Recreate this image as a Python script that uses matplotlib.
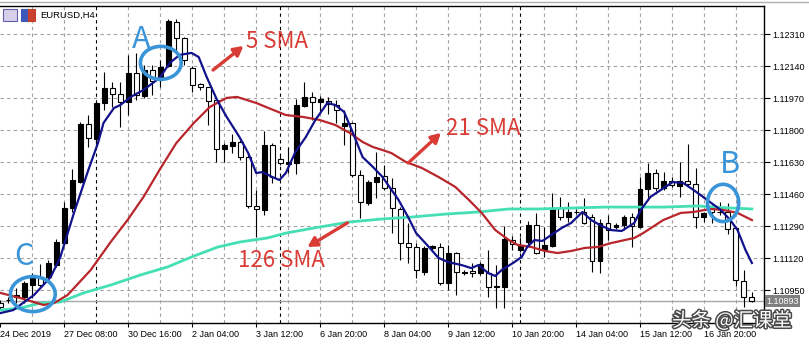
import numpy as np
import matplotlib.pyplot as plt
import matplotlib.patheffects as pe
from matplotlib.patches import Ellipse, Rectangle
from matplotlib.lines import Line2D


# EURUSD H4 candles, oldest first
opens = [1.10882, 1.10898, 1.10914, 1.10914, 1.10978, 1.11021, 1.11021, 1.11084, 1.11201, 1.11387,
         1.11525, 1.11833, 1.11754, 1.11945, 1.12025, 1.11993, 1.11950, 1.12104, 1.11982, 1.12120,
         1.12067, 1.12142, 1.12375, 1.12290, 1.12131, 1.12046, 1.12030, 1.11961, 1.11701, 1.11717,
         1.11738, 1.11658, 1.11398, 1.11377, 1.11722, 1.11648, 1.11621, 1.11626, 1.11929, 1.11977,
         1.11950, 1.11956, 1.11934, 1.11823, 1.11839, 1.11563, 1.11414, 1.11525, 1.11557, 1.11493,
         1.11382, 1.11201, 1.11180, 1.11047, 1.11175, 1.11180, 1.10989, 1.11148, 1.11042, 1.11052,
         1.11042, 1.11042, 1.10968, 1.10968, 1.11217, 1.11164, 1.11207, 1.11297, 1.11164, 1.11185,
         1.11387, 1.11339, 1.11366, 1.11366, 1.11339, 1.11106, 1.11308, 1.11286, 1.11297, 1.11339,
         1.11286, 1.11488, 1.11573, 1.11493, 1.11531, 1.11504, 1.11531, 1.11515, 1.11339, 1.11387,
         1.11366, 1.11366, 1.11281, 1.10999, 1.10914]
highs = [1.10898, 1.10914, 1.10962, 1.10999, 1.11042, 1.11090, 1.11111, 1.11223, 1.11419, 1.11594,
         1.11844, 1.11881, 1.11950, 1.12110, 1.12057, 1.12057, 1.12200, 1.12211, 1.12147, 1.12147,
         1.12173, 1.12391, 1.12391, 1.12296, 1.12142, 1.12051, 1.12030, 1.11972, 1.11732, 1.11780,
         1.11748, 1.11685, 1.11483, 1.11796, 1.11732, 1.11663, 1.11711, 1.11966, 1.12057, 1.12003,
         1.11982, 1.11977, 1.11961, 1.11908, 1.11844, 1.11589, 1.11536, 1.11685, 1.11616, 1.11547,
         1.11392, 1.11308, 1.11201, 1.11185, 1.11191, 1.11201, 1.11191, 1.11153, 1.11058, 1.11095,
         1.11100, 1.11164, 1.11084, 1.11292, 1.11238, 1.11233, 1.11318, 1.11361, 1.11286, 1.11467,
         1.11446, 1.11419, 1.11382, 1.11440, 1.11355, 1.11329, 1.11350, 1.11308, 1.11350, 1.11361,
         1.11552, 1.11626, 1.11594, 1.11578, 1.11552, 1.11632, 1.11727, 1.11600, 1.11366, 1.11403,
         1.11419, 1.11414, 1.11286, 1.11058, 1.10941]
lows = [1.10851, 1.10882, 1.10882, 1.10882, 1.10909, 1.10968, 1.10989, 1.11074, 1.11191, 1.11366,
        1.11520, 1.11711, 1.11711, 1.11908, 1.11924, 1.11817, 1.11881, 1.11961, 1.11972, 1.11988,
        1.12030, 1.12136, 1.12211, 1.12147, 1.12003, 1.12014, 1.11828, 1.11632, 1.11632, 1.11679,
        1.11642, 1.11387, 1.11233, 1.11350, 1.11520, 1.11616, 1.11573, 1.11568, 1.11924, 1.11855,
        1.11892, 1.11887, 1.11839, 1.11722, 1.11552, 1.11334, 1.11403, 1.11440, 1.11483, 1.11254,
        1.11111, 1.11095, 1.11015, 1.11031, 1.11164, 1.10978, 1.10952, 1.10925, 1.11031, 1.11021,
        1.11031, 1.10914, 1.10856, 1.10856, 1.11164, 1.11153, 1.11191, 1.11143, 1.11127, 1.11180,
        1.11323, 1.11313, 1.11355, 1.11302, 1.11047, 1.11042, 1.11217, 1.11276, 1.11270, 1.11180,
        1.11281, 1.11430, 1.11478, 1.11483, 1.11499, 1.11446, 1.11499, 1.11281, 1.11313, 1.11308,
        1.11350, 1.11249, 1.10973, 1.10861, 1.10888]
closes = [1.10861, 1.10898, 1.10925, 1.10989, 1.11026, 1.10978, 1.11095, 1.11207, 1.11387, 1.11536,
          1.11833, 1.11759, 1.11945, 1.12025, 1.11993, 1.11950, 1.12104, 1.11988, 1.12120, 1.12062,
          1.12136, 1.12381, 1.12290, 1.12173, 1.12041, 1.12030, 1.11956, 1.11701, 1.11722, 1.11738,
          1.11658, 1.11398, 1.11382, 1.11722, 1.11552, 1.11626, 1.11632, 1.11934, 1.11977, 1.11950,
          1.11966, 1.11940, 1.11908, 1.11839, 1.11563, 1.11419, 1.11525, 1.11552, 1.11493, 1.11387,
          1.11201, 1.11180, 1.11058, 1.11175, 1.11185, 1.10989, 1.11148, 1.11047, 1.11047, 1.11042,
          1.11090, 1.10968, 1.10973, 1.11223, 1.11196, 1.11191, 1.11297, 1.11148, 1.11191, 1.11387,
          1.11339, 1.11366, 1.11366, 1.11308, 1.11106, 1.11308, 1.11270, 1.11297, 1.11339, 1.11292,
          1.11488, 1.11573, 1.11493, 1.11531, 1.11509, 1.11531, 1.11515, 1.11339, 1.11361, 1.11366,
          1.11366, 1.11276, 1.11005, 1.10914, 1.10893]

# moving averages (bar position, price)
sma5_bar = [0, 1.6, 4.2, 6.3, 7.5, 9.2, 11.0, 12.2, 12.9, 14.2, 15.0, 16.3, 17.9, 19.9, 21.2, 22.4,
            23.9, 24.8, 25.8, 27.1, 28.3, 29.9, 31.0, 32.0, 32.8, 34.0, 34.9, 35.7, 36.9, 38.2, 39.4,
            40.9, 41.9, 43.0, 44.1, 45.3, 46.6, 47.8, 48.5, 49.8, 51.0, 52.0, 53.6, 54.8, 56.0, 57.7,
            58.9, 59.8, 61.0, 61.9, 62.7, 63.1, 64.3, 65.2, 65.9, 66.8, 67.8, 68.9, 70.2, 71.4, 72.8,
            73.9, 75.2, 76.4, 77.7, 79.3, 80.1, 81.3, 82.6, 84.1, 85.4, 86.7, 88.4, 90.1, 91.3, 92.2,
            93.2, 94.0]
sma5 = [1.10829, 1.10845, 1.10925, 1.11021, 1.11127, 1.11361, 1.11589, 1.11732, 1.11839, 1.11918,
        1.11934, 1.11977, 1.12014, 1.12078, 1.12158, 1.12200, 1.12211, 1.12189, 1.12083, 1.11961,
        1.11871, 1.11764, 1.11679, 1.11573, 1.11578, 1.11552, 1.11536, 1.11573, 1.11685, 1.11764,
        1.11855, 1.11945, 1.11934, 1.11897, 1.11786, 1.11658, 1.11605, 1.11552, 1.11509, 1.11430,
        1.11339, 1.11254, 1.11180, 1.11122, 1.11100, 1.11084, 1.11068, 1.11084, 1.11042, 1.11026,
        1.11058, 1.11068, 1.11100, 1.11127, 1.11180, 1.11217, 1.11212, 1.11244, 1.11281, 1.11308,
        1.11366, 1.11323, 1.11292, 1.11270, 1.11265, 1.11308, 1.11377, 1.11446, 1.11483, 1.11525,
        1.11520, 1.11483, 1.11430, 1.11377, 1.11323, 1.11270, 1.11164, 1.11095]

sma21_bar = [0, 2.5, 5.4, 6.7, 8.4, 11.3, 13.8, 15.9, 17.9, 19.9, 22.0, 24.2, 26.2, 28.3, 29.6, 30.8,
             32.0, 33.2, 35.7, 37.8, 39.9, 41.9, 43.7, 45.3, 46.6, 47.8, 48.9, 50.7, 52.7, 54.8, 56.9,
             58.6, 60.2, 61.9, 63.6, 64.7, 66.4, 68.1, 69.7, 71.4, 73.1, 74.7, 76.4, 78.1, 79.3, 80.4,
             82.9, 85.1, 86.7, 88.8, 90.4, 92.2, 94.0]
sma21 = [1.10936, 1.10909, 1.10872, 1.10882, 1.10925, 1.11058, 1.11207, 1.11323, 1.11446, 1.11589,
         1.11732, 1.11839, 1.11924, 1.11972, 1.11977, 1.11961, 1.11945, 1.11924, 1.11881, 1.11871,
         1.11855, 1.11828, 1.11786, 1.11738, 1.11711, 1.11695, 1.11679, 1.11632, 1.11600, 1.11552,
         1.11499, 1.11430, 1.11361, 1.11270, 1.11217, 1.11191, 1.11180, 1.11159, 1.11148, 1.11159,
         1.11175, 1.11180, 1.11201, 1.11217, 1.11228, 1.11254, 1.11323, 1.11361, 1.11366, 1.11382,
         1.11377, 1.11361, 1.11323]

sma126_bar = [0, 2.5, 5.0, 7.5, 10.4, 13.8, 17.5, 20.9, 24.2, 27.2, 30.0, 33.4, 35.7, 39.9, 43.7,
              47.8, 51.4, 55.7, 59.8, 63.6, 67.2, 71.4, 75.6, 79.3, 82.9, 87.2, 91.3, 94.0]
sma126 = [1.10845, 1.10856, 1.10882, 1.10888, 1.10936, 1.10978, 1.11031, 1.11074, 1.11132, 1.11180,
          1.11207, 1.11228, 1.11254, 1.11286, 1.11313, 1.11329, 1.11339, 1.11355, 1.11366, 1.11382,
          1.11382, 1.11387, 1.11392, 1.11392, 1.11392, 1.11398, 1.11387, 1.11382]

price_levels = [1.10950, 1.11120, 1.11290, 1.11460, 1.11630, 1.11800, 1.11970, 1.12140, 1.12310]
date_bars = [0, 8, 16, 24, 32, 40, 48, 56, 64, 72, 80, 88]
date_labels = ['24 Dec 2019', '27 Dec 08:00', '30 Dec 16:00', '2 Jan 04:00', '3 Jan 12:00',
               '6 Jan 20:00', '8 Jan 04:00', '9 Jan 12:00', '10 Jan 20:00', '14 Jan 04:00',
               '15 Jan 12:00', '16 Jan 20:00']
week_bars = [12, 35, 65]
last_price = 1.10893

RED = '#d93b35'
MARK = '#3a95d8'
CJK = ['Noto Sans CJK SC', 'DejaVu Sans']

fig = plt.figure(figsize=(8.09, 3.44), dpi=100)
ax = fig.add_axes([0, 21.3 / 344, 763.5 / 809, 316.7 / 344])
ax.set_xlim(-0.05, 95.45)
ax.set_ylim(1.10778, 1.12460)

# grid
for p in price_levels:
    ax.axhline(p, color='#a0a0a0', lw=0.8, ls=(0, (3, 3)), zorder=1)
for b in range(4, 96, 4):
    if b not in week_bars:
        ax.axvline(b, color='#a0a0a0', lw=0.8, ls=(0, (3, 3)), zorder=1)
for b in week_bars:
    ax.axvline(b, color='black', lw=0.8, ls=(0, (3, 3)), zorder=1)
ax.axhline(last_price, color='#a8a8a8', lw=1.0, zorder=1)

# candles: black = up, white = down
x = np.arange(len(opens))
o = np.array(opens)
c = np.array(closes)
up = c >= o
ax.vlines(x, lows, highs, color='black', lw=0.8, zorder=3)
ax.bar(x, np.abs(c - o), bottom=np.minimum(o, c), width=0.62,
       color=np.where(up, 'black', 'white'), edgecolor='black', lw=0.8, zorder=4)

ax.plot(sma126_bar, sma126, color='#45dfb6', lw=2.0, zorder=5)
ax.plot(sma21_bar, sma21, color='#b8262b', lw=1.6, zorder=5)
ax.plot(sma5_bar, sma5, color='#12128c', lw=1.6, zorder=6)

# circles and letters
for cx, cy, w, h in [(20.06, 1.12158, 5.1, 0.00175), (4.06, 1.10930, 5.6, 0.00186),
                     (90.4, 1.11414, 3.9, 0.00198)]:
    ax.add_patch(Ellipse((cx, cy), w, h, fill=False, ec=MARK, lw=2.6, zorder=7))
for s, lx, ly in [('A', 17.6, 1.12280), ('C', 2.9, 1.11127), ('B', 91.3, 1.11616)]:
    ax.text(lx, ly, s, color=MARK, fontsize=22, ha='center', va='center', family=CJK, zorder=8)

# SMA callouts
arrow = dict(arrowstyle='-|>,head_length=0.55,head_width=0.3', color=RED, lw=2.4,
             shrinkA=0, shrinkB=0)
ax.annotate('', xy=(30.4, 1.12248), xytext=(26.6, 1.12120), arrowprops=arrow, zorder=8)
ax.annotate('', xy=(55.1, 1.11786), xytext=(51.0, 1.11626), arrowprops=arrow, zorder=8)
ax.annotate('', xy=(38.4, 1.11180), xytext=(43.4, 1.11308), arrowprops=arrow, zorder=8)
ax.text(30.7, 1.12274, '5 SMA', color=RED, fontsize=16, va='center', family=CJK, zorder=8)
ax.text(55.7, 1.11812, '21 SMA', color=RED, fontsize=16, va='center', family=CJK, zorder=8)
ax.text(29.7, 1.11111, '126 SMA', color=RED, fontsize=16, va='center', family=CJK, zorder=8)

# axes look of the terminal
for side in ['top', 'right', 'bottom']:
    ax.spines[side].set_color('black')
    ax.spines[side].set_linewidth(1.0)
ax.spines['left'].set_visible(False)
ax.yaxis.tick_right()
ax.set_yticks(price_levels, [f'{p:.5f}' for p in price_levels])
ax.tick_params(axis='y', direction='out', length=4, width=0.8, labelsize=6.5, pad=2)
ax.set_xticks(date_bars, date_labels, ha='left')
ax.tick_params(axis='x', direction='out', length=3, width=0.8, labelsize=6.5, pad=2)
for t in ax.get_xticklabels() + ax.get_yticklabels():
    t.set_family('Liberation Sans')

ax.text(1.004, last_price, f'{last_price:.5f}', transform=ax.get_yaxis_transform(),
        fontsize=6.5, color='white', va='center', ha='left', family='Liberation Sans',
        bbox=dict(boxstyle='square,pad=0.15', fc='#808080', ec='none'), zorder=9, clip_on=False)

# header
fig.add_artist(Line2D([0, 1], [1 - 1.5 / 344] * 2, color='#b0b0b0', lw=1))
fig.add_artist(Rectangle((3 / 809, 1 - 21 / 344), 14 / 809, 12 / 344, fc='#d8d0ea', ec='#6060a8', lw=0.8))
fig.add_artist(Rectangle((21 / 809, 1 - 21 / 344), 7 / 809, 12 / 344, fc='#3c58b8', ec='#3c58b8', lw=0.8))
fig.add_artist(Rectangle((28 / 809, 1 - 21 / 344), 7 / 809, 12 / 344, fc='#c84030', ec='#c84030', lw=0.8))
fig.text(40 / 809, 1 - 15 / 344, 'EURUSD,H4', fontsize=6.8, va='center', family='Liberation Sans')

fig.text(672 / 809, 23 / 344, '头条 @汇课堂', fontsize=14, color='white', va='center',
         family=CJK, path_effects=[pe.withStroke(linewidth=2.2, foreground='#4a4a4a')], zorder=10)

fig.savefig('out.png', dpi=100)
